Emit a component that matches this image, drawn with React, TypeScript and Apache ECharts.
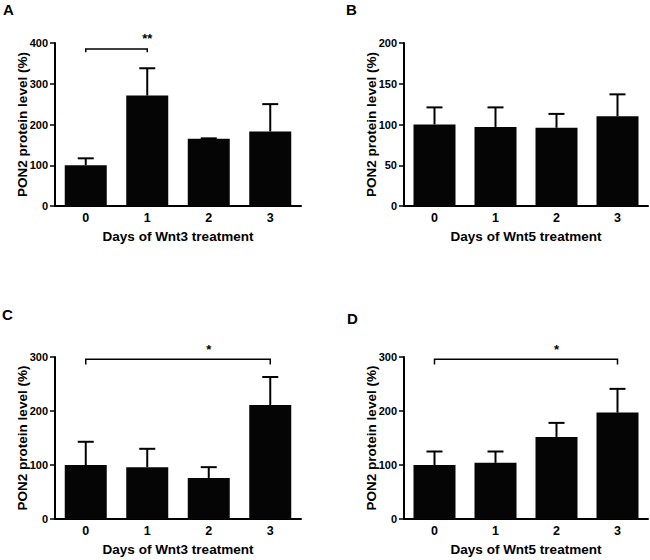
import React, { useEffect, useRef } from "react";
import * as echarts from "echarts";

const days = ["0", "1", "2", "3"];

// Panel A: Wnt3, mean and top of SEM bar
const meanA = [100, 271, 165, 183];
const topA = [117, 338, 166, 250];
// Panel B: Wnt5
const meanB = [100, 97, 96, 110];
const topB = [121, 121, 113, 137];
// Panel C: Wnt3
const meanC = [100, 96, 76, 211];
const topC = [143, 130, 96, 263];
// Panel D: Wnt5
const meanD = [100, 104, 152, 197];
const topD = [125, 125, 178, 241];

// significance brackets: [from, to, level, footLevel, starLevel, label]
const sigA: [number, number, number, number, number, string][] = [[0, 1, 385, 377, 412, "**"]];
const sigC: [number, number, number, number, number, string][] = [[0, 3, 296, 286, 313, "*"]];
const sigD: [number, number, number, number, number, string][] = [[0, 3, 296, 286, 314, "*"]];

const yMax = [400, 200, 300, 300];
const yStep = [100, 50, 100, 100];
const xNames = [
  "Days of Wnt3 treatment",
  "Days of Wnt5 treatment",
  "Days of Wnt3 treatment",
  "Days of Wnt5 treatment",
];
const yName = "PON2 protein level (%)";
const panelLetters = ["A", "B", "C", "D"];

const FONT = "'Liberation Sans', Arial, sans-serif";

export default function App() {
  const ref = useRef<HTMLDivElement>(null);
  useEffect(() => {
    if (!ref.current) return;
    const chart = echarts.init(ref.current, undefined, { renderer: "svg" });

    const grids = [
      { left: 55, top: 43, width: 246, height: 163 },
      { left: 404, top: 43, width: 244, height: 163 },
      { left: 55, top: 357, width: 246, height: 162 },
      { left: 404, top: 357, width: 244, height: 162 },
    ];
    const means = [meanA, meanB, meanC, meanD];
    const tops = [topA, topB, topC, topD];
    const sigs = [sigA, [], sigC, sigD];

    const xAxis = grids.map((_, i) => ({
      type: "category",
      gridIndex: i,
      data: days,
      boundaryGap: true,
      axisLine: { lineStyle: { color: "#000", width: 2 } },
      axisTick: { show: false },
      axisLabel: {
        color: "#000",
        fontFamily: FONT,
        fontWeight: "bold",
        fontSize: 12.5,
        margin: 5,
      },
      name: xNames[i],
      nameLocation: "middle",
      nameGap: 23,
      nameTextStyle: {
        color: "#000",
        fontFamily: FONT,
        fontWeight: "bold",
        fontSize: 13.5,
      },
    }));

    const yAxis = grids.map((_, i) => ({
      type: "value",
      gridIndex: i,
      min: 0,
      max: yMax[i],
      interval: yStep[i],
      splitLine: { show: false },
      axisLine: { show: true, lineStyle: { color: "#000", width: 2 } },
      axisTick: { show: true, length: 5, lineStyle: { color: "#000", width: 1.5 } },
      axisLabel: {
        color: "#000",
        fontFamily: FONT,
        fontWeight: "bold",
        fontSize: 11,
        margin: 7,
      },
    }));

    const series: any[] = [];
    grids.forEach((_, i) => {
      series.push({
        type: "bar",
        xAxisIndex: i,
        yAxisIndex: i,
        data: means[i],
        barWidth: 42,
        itemStyle: { color: "#050505" },
        z: 2,
      });
      series.push({
        type: "custom",
        xAxisIndex: i,
        yAxisIndex: i,
        z: 3,
        data: means[i].map((m, k) => [k, m, tops[i][k]]),
        encode: { x: 0, y: [1, 2] },
        renderItem: (params: any, api: any) => {
          const x = api.value(0);
          const p0 = api.coord([x, api.value(1)]);
          const p1 = api.coord([x, api.value(2)]);
          return {
            type: "group",
            children: [
              {
                type: "line",
                shape: { x1: p0[0], y1: p0[1], x2: p1[0], y2: p1[1] },
                style: { stroke: "#000", lineWidth: 2 },
              },
              {
                type: "line",
                shape: { x1: p1[0] - 8, y1: p1[1], x2: p1[0] + 8, y2: p1[1] },
                style: { stroke: "#000", lineWidth: 2 },
              },
            ],
          };
        },
      });
      if (sigs[i].length) {
        series.push({
          type: "custom",
          xAxisIndex: i,
          yAxisIndex: i,
          clip: false,
          z: 4,
          data: sigs[i].map((s) => [s[0], s[2], s[1], s[3], s[4]]),
          encode: { x: 0, y: 1 },
          renderItem: (params: any, api: any) => {
            const s = sigs[i][params.dataIndex];
            const a = api.coord([s[0], s[2]]);
            const b = api.coord([s[1], s[2]]);
            const af = api.coord([s[0], s[3]]);
            const bf = api.coord([s[1], s[3]]);
            const st = api.coord([(s[0] + s[1]) / 2, s[4]]);
            return {
              type: "group",
              children: [
                {
                  type: "polyline",
                  shape: {
                    points: [
                      [af[0], af[1]],
                      [a[0], a[1]],
                      [b[0], b[1]],
                      [bf[0], bf[1]],
                    ],
                  },
                  style: { stroke: "#000", lineWidth: 1.5, fill: "none" },
                },
                {
                  type: "text",
                  style: {
                    text: s[5],
                    x: st[0],
                    y: st[1],
                    align: "center",
                    verticalAlign: "middle",
                    fill: "#000",
                    font: `bold 13px ${FONT}`,
                  },
                },
              ],
            };
          },
        });
      }
    });

    const letterPos = [
      [3, 2],
      [346, 2],
      [2, 307],
      [347, 311],
    ];

    const graphic: any[] = panelLetters.map((t, i) => ({
      type: "text",
      left: letterPos[i][0],
      top: letterPos[i][1],
      style: {
        text: t,
        fill: "#000",
        font: `bold 15px ${FONT}`,
      },
    }));
    grids.forEach((g) => {
      graphic.push({
        type: "text",
        x: g.left - 33,
        y: g.top + g.height / 2,
        rotation: Math.PI / 2,
        style: {
          text: yName,
          fill: "#000",
          font: `bold 13.5px ${FONT}`,
          align: "center",
          verticalAlign: "middle",
        },
      });
    });

    chart.setOption({
      animation: false,
      backgroundColor: "#fff",
      grid: grids,
      xAxis,
      yAxis,
      series,
      graphic,
    });
    return () => chart.dispose();
  }, []);

  return (
    <div
      ref={ref}
      style={{ position: "fixed", left: 0, top: 0, width: 650, height: 560 }}
    />
  );
}
